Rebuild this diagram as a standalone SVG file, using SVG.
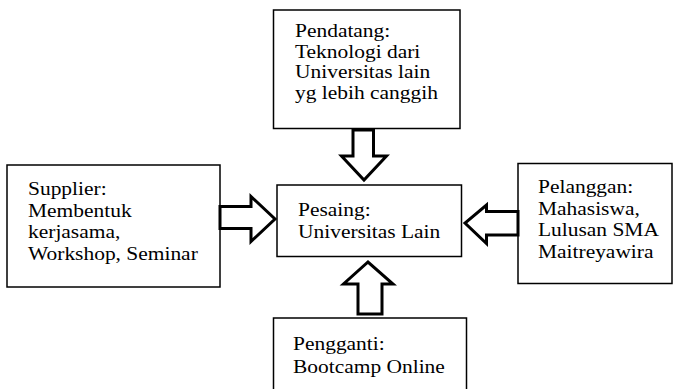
<svg xmlns="http://www.w3.org/2000/svg" width="675" height="389" viewBox="0 0 675 389">
<style>
.box{fill:#fff;stroke:#000;stroke-width:1.5}
.arr{fill:#fff;stroke:#000;stroke-width:3;stroke-linejoin:miter}
text{font-family:"Liberation Serif","Times New Roman",serif;font-size:18.5px;fill:#000}
</style>
<rect width="675" height="389" fill="#fff"/>
<g id="pendatang">
<rect class="box" x="273.5" y="10" width="186.5" height="118.5"/>
<g transform="translate(295,0) scale(1.16,1)">
<text x="0" y="37.5">Pendatang:</text>
<text x="0" y="58">Teknologi dari</text>
<text x="0" y="78.5">Universitas lain</text>
<text x="0" y="99">yg lebih canggih</text>
</g>
</g>
<g id="supplier">
<rect class="box" x="7" y="165" width="213" height="122"/>
<g transform="translate(28,0) scale(1.16,1)">
<text x="0" y="195">Supplier:</text>
<text x="0" y="217">Membentuk</text>
<text x="0" y="238.5">kerjasama,</text>
<text x="0" y="260">Workshop, Seminar</text>
</g>
</g>
<g id="pesaing">
<rect class="box" x="277" y="185" width="184.5" height="71.5"/>
<g transform="translate(298,0) scale(1.16,1)">
<text x="0" y="216">Pesaing:</text>
<text x="0" y="238">Universitas Lain</text>
</g>
</g>
<g id="pelanggan">
<rect class="box" x="518" y="163.5" width="154" height="120"/>
<g transform="translate(538,0) scale(1.16,1)">
<text x="0" y="193">Pelanggan:</text>
<text x="0" y="215">Mahasiswa,</text>
<text x="0" y="236.5">Lulusan SMA</text>
<text x="0" y="258">Maitreyawira</text>
</g>
</g>
<g id="pengganti">
<rect class="box" x="273.5" y="318" width="193" height="80"/>
<g transform="translate(293,0) scale(1.16,1)">
<text x="0" y="350">Pengganti:</text>
<text x="0" y="373">Bootcamp Online</text>
</g>
</g>
<g id="connectors">
<polygon class="arr" points="353,130 373.5,130 373.5,156 386.5,156 364,180 341.5,156 353,156"/>
<polygon class="arr" points="358,314 382,314 382,284 393,284 368,262 343.5,284 358,284"/>
<polygon class="arr" points="220,206.5 251,206.5 251,196.5 275,219 251,241.5 251,228.5 220,228.5"/>
<polygon class="arr" points="518,211.5 486.5,211.5 486.5,205 465,223 486.5,243.5 486.5,235 518,235"/>
</g>
</svg>
